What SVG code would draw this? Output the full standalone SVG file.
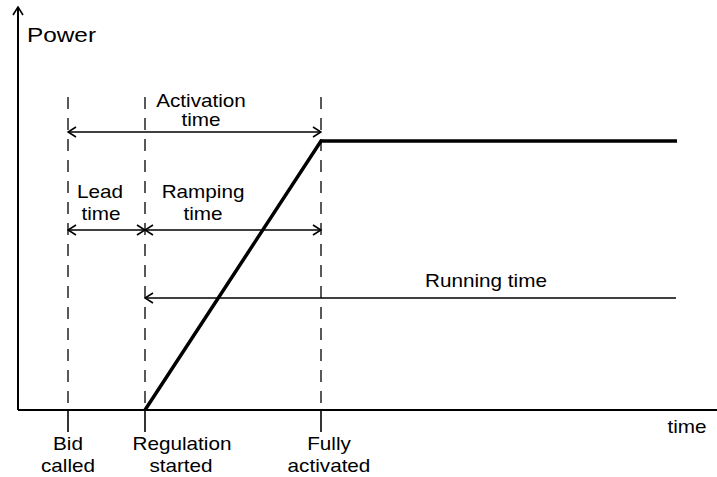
<svg xmlns="http://www.w3.org/2000/svg" width="717" height="477" viewBox="0 0 717 477">
<style>
text{font-family:"Liberation Sans",Arial,sans-serif;font-size:18px;fill:#000}
.ax{stroke:#000;stroke-width:2;fill:none}
.dash{stroke:#000;stroke-width:1.3;stroke-dasharray:12 9;fill:none}
.tick{stroke:#000;stroke-width:1.6;fill:none}
.dim{stroke:#000;stroke-width:1.6;fill:none}
.pw{stroke:#000;stroke-width:3.5;fill:none;stroke-linejoin:miter}
</style>
<defs>
<marker id="ah" viewBox="0 0 10 12" refX="9" refY="6" markerWidth="10" markerHeight="12" markerUnits="userSpaceOnUse" orient="auto-start-reverse">
<path d="M1,1 L9,6 L1,11" fill="none" stroke="#000" stroke-width="1.6"/>
</marker>
</defs>
<g id="axes">
<line class="ax" x1="18" y1="410" x2="18" y2="7" marker-end="url(#ah)"/>
<line class="ax" x1="18" y1="410" x2="717" y2="410"/>
</g>
<g id="connectors">
<line class="dash" x1="68" y1="97" x2="68" y2="410"/>
<line class="dash" x1="145" y1="97" x2="145" y2="410"/>
<line class="dash" x1="321" y1="97" x2="321" y2="410"/>
<line class="tick" x1="68" y1="410" x2="68" y2="432"/>
<line class="tick" x1="145" y1="410" x2="145" y2="432"/>
<line class="tick" x1="321" y1="410" x2="321" y2="432"/>
<line class="dim" x1="68" y1="132" x2="321" y2="132" marker-start="url(#ah)" marker-end="url(#ah)"/>
<line class="dim" x1="68" y1="230" x2="145" y2="230" marker-start="url(#ah)" marker-end="url(#ah)"/>
<line class="dim" x1="145" y1="230" x2="321" y2="230" marker-start="url(#ah)" marker-end="url(#ah)"/>
<line class="dim" x1="676" y1="298" x2="145" y2="298" marker-end="url(#ah)"/>
</g>
<g id="power-curve">
<polyline class="pw" points="145,410 321,141 677,141"/>
</g>
<g id="labels">
<text transform="translate(27,42) scale(1.16,1)" style="font-size:21px">Power</text>
<text text-anchor="middle" transform="translate(201,107) scale(1.15,1)">Activation</text>
<text text-anchor="middle" transform="translate(201,126) scale(1.15,1)">time</text>
<text text-anchor="middle" transform="translate(100,198) scale(1.15,1)">Lead</text>
<text text-anchor="middle" transform="translate(101,220) scale(1.15,1)">time</text>
<text text-anchor="middle" transform="translate(203,198) scale(1.15,1)">Ramping</text>
<text text-anchor="middle" transform="translate(203,220) scale(1.15,1)">time</text>
<text text-anchor="middle" transform="translate(486,287) scale(1.15,1)">Running time</text>
<text text-anchor="middle" transform="translate(687,433) scale(1.15,1)">time</text>
<text text-anchor="middle" transform="translate(68,450) scale(1.15,1)">Bid</text>
<text text-anchor="middle" transform="translate(68,472) scale(1.15,1)">called</text>
<text text-anchor="middle" transform="translate(182,450) scale(1.15,1)">Regulation</text>
<text text-anchor="middle" transform="translate(181,472) scale(1.15,1)">started</text>
<text text-anchor="middle" transform="translate(329,450) scale(1.15,1)">Fully</text>
<text text-anchor="middle" transform="translate(329,472) scale(1.15,1)">activated</text>
</g>
</svg>
